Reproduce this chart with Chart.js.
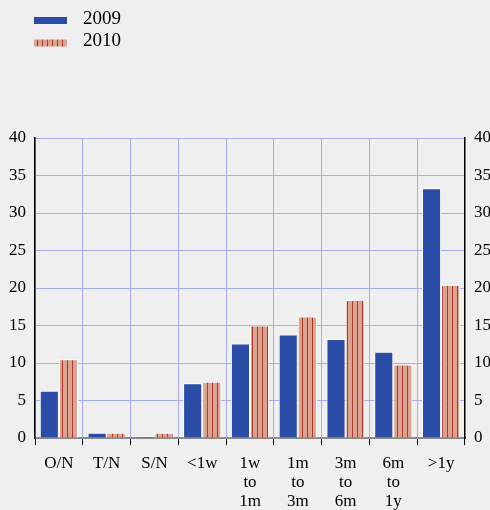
<!DOCTYPE html>
<html>
<head>
<meta charset="utf-8">
<script src="https://cdn.jsdelivr.net/npm/chart.js@4/dist/chart.umd.min.js"></script>
<style>
  html, body { margin: 0; padding: 0; background: #efefef; }
  #wrap { width: 490px; height: 510px; position: relative; }
</style>
</head>
<body>
<div id="wrap"><canvas id="chart"></canvas></div>
<script>
/* ─── DATA ─────────────────────────────────────────────── */
const CATEGORIES = [['O/N'], ['T/N'], ['S/N'], ['<1w'], ['1w', 'to', '1m'], ['1m', 'to', '3m'], ['3m', 'to', '6m'], ['6m', 'to', '1y'], ['>1y']];
const SERIES_LABELS = ['2009', '2010'];
const VALUES_2009 = [6.3, 0.7, 0.2, 7.3, 12.6, 13.8, 13.2, 11.5, 33.3];
const VALUES_2010 = [10.5, 0.7, 0.7, 7.5, 15.0, 16.2, 18.4, 9.8, 20.4];
const Y_MIN = 0;
const Y_MAX = 40;
const Y_STEP = 5;

/* ─── STYLE ────────────────────────────────────────────── */
const FONT = 'Liberation Serif';
const BLUE = '#2a4ca6';
const GRID = '#a7adea';

/* striped fill for the 2010 bars */
function stripePattern() {
  const c = document.createElement('canvas');
  c.width = 5; c.height = 10;
  const g = c.getContext('2d');
  g.fillStyle = '#dba392';
  g.fillRect(0, 0, 5, 10);
  g.fillStyle = '#b23a2c';
  g.fillRect(2, 0, 1, 10);
  return g.createPattern(c, 'repeat');
}
const STRIPES = stripePattern();

/* legend stacked in the top-left corner */
const stackedLegend = {
  id: 'stackedLegend',
  afterDraw(chart) {
    const g = chart.ctx;
    g.save();
    chart.data.datasets.forEach((ds, i) => {
      const y = 17 + i * 22.5;
      g.fillStyle = ds.backgroundColor;
      g.fillRect(34, y, 33, 7);
      g.fillStyle = '#000';
      g.font = '19px "' + FONT + '"';
      g.textBaseline = 'middle';
      g.fillText(ds.label, 83, y + 2);
    });
    g.restore();
  },
};

const yTicks = { color: '#000', font: { family: FONT, size: 17 }, stepSize: Y_STEP, padding: 9 };

new Chart(document.getElementById('chart'), {
  type: 'bar',
  data: {
    labels: CATEGORIES,
    datasets: [
      { label: SERIES_LABELS[0], data: VALUES_2009, backgroundColor: BLUE, borderColor: '#fff', borderWidth: 1, yAxisID: 'y' },
      { label: SERIES_LABELS[1], data: VALUES_2010, backgroundColor: STRIPES, borderColor: '#fff', borderWidth: 1, yAxisID: 'y' },
    ],
  },
  options: {
    responsive: true,
    maintainAspectRatio: false,
    animation: false,
    layout: { padding: { top: 138, left: 0, right: 0, bottom: 0 } },
    categoryPercentage: 0.8,
    barPercentage: 1.0,
    plugins: {
      legend: { display: false },
      tooltip: { enabled: false },
    },
    scales: {
      x: {
        offset: true,
        grid: { color: GRID, offset: true, drawTicks: true, tickLength: 7, tickColor: '#000', tickWidth: 1 },
        border: { color: '#8a8a8a', width: 2 },
        ticks: { color: '#000', font: { family: FONT, size: 17, lineHeight: 1.12 }, padding: 9, maxRotation: 0, autoSkip: false },
        afterFit: (s) => { s.height = 72; },
      },
      y: {
        position: 'left',
        min: Y_MIN, max: Y_MAX,
        grid: { color: GRID, drawTicks: false },
        border: { color: '#000', width: 1.5 },
        ticks: yTicks,
        afterFit: (s) => { s.width = 35; },
      },
      y2: {
        position: 'right',
        min: Y_MIN, max: Y_MAX,
        grid: { display: false, drawTicks: false },
        border: { color: '#000', width: 1.5 },
        ticks: yTicks,
        afterFit: (s) => { s.width = 25; },
      },
    },
  },
  plugins: [stackedLegend],
});
</script>
</body>
</html>
